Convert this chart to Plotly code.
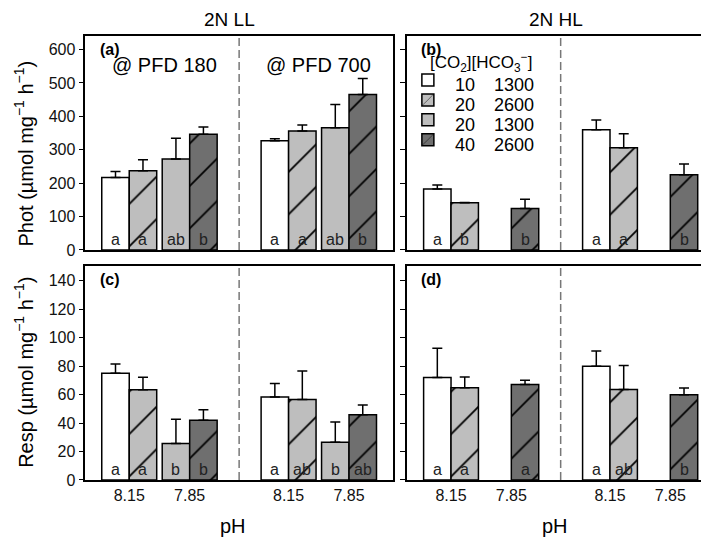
import plotly.graph_objects as go
from plotly.subplots import make_subplots

# treatments: [CO2] and [HCO3-]
co2 = ["10", "20", "20", "40"]
hco3 = ["1300", "2600", "1300", "2600"]
ph_labels = ["8.15", "7.85", "8.15", "7.85"]

# bar order: PFD 180 (t1..t4), PFD 700 (t1..t4)
phot_ll = [217, 237, 272, 346, 327, 356, 366, 465]
phot_ll_se = [18, 33, 62, 22, 6, 18, 69, 48]
phot_ll_sig = ["a", "a", "ab", "b", "a", "a", "ab", "b"]

phot_hl = [182, 141, None, 124, 360, 306, None, 225]
phot_hl_se = [12, 1, None, 28, 29, 42, None, 32]
phot_hl_sig = ["a", "b", "", "b", "a", "a", "", "b"]

resp_ll = [75, 63.4, 25.6, 42, 58.3, 56.5, 26.5, 45.9]
resp_ll_se = [6.6, 8.8, 17.1, 7.4, 9.5, 20.1, 14.3, 6.9]
resp_ll_sig = ["a", "a", "b", "b", "a", "ab", "b", "ab"]

resp_hl = [72, 64.8, None, 67.1, 80, 63.7, None, 60]
resp_hl_se = [20.7, 7.6, None, 3.0, 10.6, 16.8, None, 4.6]
resp_hl_sig = ["a", "a", "", "a", "a", "ab", "", "b"]

# layout of the bars on a numeric axis (bar width = 1)
GROUP_START = [1.1, 6.9]
SLOT = [0, 1, 2.2, 3.2]
X_POS = [g + s for g in GROUP_START for s in SLOT]
TICK_POS = [1.6, 3.8, 7.4, 9.6]
DIVIDER = 5.6
X_RANGE = [0, 11.2]

FILL = ["white", "#bebebe", "#bebebe", "#6f6f6f"]
HATCH = ["", "/", "", "/"]
FONT = "Arial, Liberation Sans, sans-serif"

fig = make_subplots(rows=2, cols=2)

panels = [
    (1, 1, phot_ll, phot_ll_se, phot_ll_sig, "(a)"),
    (1, 2, phot_hl, phot_hl_se, phot_hl_sig, "(b)"),
    (2, 1, resp_ll, resp_ll_se, resp_ll_sig, "(c)"),
    (2, 2, resp_hl, resp_hl_se, resp_hl_sig, "(d)"),
]

for k, (row, col, mean, se, sig, tag) in enumerate(panels):
    for t in range(4):
        idx = [t, t + 4]
        fig.add_trace(
            go.Bar(
                x=[X_POS[i] for i in idx],
                y=[mean[i] for i in idx],
                width=1,
                name="",
                showlegend=(k == 0),
                marker=dict(
                    color=FILL[t],
                    line=dict(color="black", width=1.5),
                    pattern=dict(shape=HATCH[t], fgcolor="black", bgcolor=FILL[t],
                                 fgopacity=1, size=30, solidity=0.06,
                                 fillmode="overlay"),
                ),
                error_y=dict(type="data", symmetric=False,
                             array=[se[i] for i in idx],
                             arrayminus=[0, 0],
                             color="black", thickness=1.5, width=5),
            ),
            row=row, col=col,
        )
    xr = "x" if k == 0 else f"x{k + 1}"
    yr = "y" if k == 0 else f"y{k + 1}"
    for i, s in enumerate(sig):
        if s:
            fig.add_annotation(x=X_POS[i], y=0, xref=xr, yref=yr, text=s,
                               showarrow=False, yanchor="bottom", yshift=0,
                               font=dict(size=16, color="#222", family=FONT))
    fig.add_annotation(x=0.04, y=0.985, xref=f"{xr} domain", yref=f"{yr} domain",
                       text=f"<b>{tag}</b>", showarrow=False,
                       xanchor="left", yanchor="top",
                       font=dict(size=16, color="black", family=FONT))
    fig.add_shape(type="line", x0=DIVIDER, x1=DIVIDER, y0=0, y1=1,
                  xref=xr, yref=f"{yr} domain",
                  line=dict(color="#777", width=1.5, dash="8px,4px"))

fig.add_annotation(x=2.9, y=555, xref="x", yref="y", text="@ PFD 180", showarrow=False,
                   font=dict(size=20, color="black", family=FONT))
fig.add_annotation(x=8.5, y=555, xref="x", yref="y", text="@ PFD 700", showarrow=False,
                   font=dict(size=20, color="black", family=FONT))

# legend labels, written next to the legend swatches
fig.add_annotation(x=420 / 709, y=1 - 55 / 541, xref="paper", yref="paper",
                   text="[CO<sub>2</sub>][HCO<sub>3</sub><sup>−</sup>]",
                   showarrow=False, xanchor="left", yanchor="middle",
                   font=dict(size=17, color="black", family=FONT))
for t in range(4):
    ypix = 78 + 20.5 * t
    fig.add_annotation(x=445 / 709, y=1 - ypix / 541, xref="paper", yref="paper",
                       text=co2[t], showarrow=False, xanchor="left", yanchor="middle",
                       font=dict(size=18, color="black", family=FONT))
    fig.add_annotation(x=528 / 709, y=1 - ypix / 541, xref="paper", yref="paper",
                       text=hco3[t], showarrow=False, xanchor="right", yanchor="middle",
                       font=dict(size=18, color="black", family=FONT))

# column titles, axis titles
for x, txt in [(0.312, "2N LL"), (0.773, "2N HL")]:
    fig.add_annotation(x=x, y=1 - 12 / 541, xref="paper", yref="paper", text=txt,
                       showarrow=False, xanchor="center", yanchor="middle",
                       font=dict(size=19, color="black", family=FONT))
for x in [0.317, 0.771]:
    fig.add_annotation(x=x, y=1 - 527 / 541, xref="paper", yref="paper", text="pH",
                       showarrow=False, xanchor="center", yanchor="middle",
                       font=dict(size=20, color="black", family=FONT))
fig.add_annotation(x=16 / 709, y=1 - 148 / 541, xref="paper", yref="paper", textangle=-90,
                   text="Phot (µmol mg<sup>−1</sup> h<sup>−1</sup>)", showarrow=False,
                   xanchor="center", yanchor="middle",
                   font=dict(size=20, color="black", family=FONT))
fig.add_annotation(x=16 / 709, y=1 - 371 / 541, xref="paper", yref="paper", textangle=-90,
                   text="Resp (µmol mg<sup>−1</sup> h<sup>−1</sup>)", showarrow=False,
                   xanchor="center", yanchor="middle",
                   font=dict(size=20, color="black", family=FONT))

dom_x = [[0.109, 0.543], [0.563, 0.996]]
dom_y = [[0.5453, 0.9477], [0.1128, 0.5152]]
for row in (1, 2):
    for col in (1, 2):
        fig.update_xaxes(domain=dom_x[col - 1], range=X_RANGE,
                         tickvals=TICK_POS, ticktext=ph_labels,
                         showticklabels=(row == 2), ticks="",
                         row=row, col=col)
        fig.update_yaxes(domain=dom_y[row - 1],
                         range=[0, 641] if row == 1 else [0, 150.5],
                         dtick=100 if row == 1 else 20,
                         showticklabels=(col == 1),
                         row=row, col=col)

fig.update_xaxes(showline=True, mirror=True, linecolor="black", linewidth=1.5,
                 showgrid=False, zeroline=False,
                 tickfont=dict(size=16, color="#111", family=FONT))
fig.update_yaxes(showline=True, mirror=True, linecolor="black", linewidth=1.5,
                 showgrid=False, zeroline=False, ticks="outside", ticklen=5,
                 tickwidth=1.2, tickcolor="black",
                 tickfont=dict(size=16, color="#111", family=FONT))

fig.update_layout(
    width=709,
    height=541,
    barmode="overlay",
    margin=dict(l=0, r=0, t=0, b=0),
    plot_bgcolor="white",
    paper_bgcolor="white",
    font=dict(family=FONT, color="black"),
    legend=dict(
        x=0.564, y=1 - 58 / 541, xanchor="left", yanchor="top",
        bgcolor="rgba(0,0,0,0)",
        font=dict(size=13, color="black", family=FONT),
        itemwidth=30,
        tracegroupgap=0,
    ),
)

fig.write_html("out.html")
